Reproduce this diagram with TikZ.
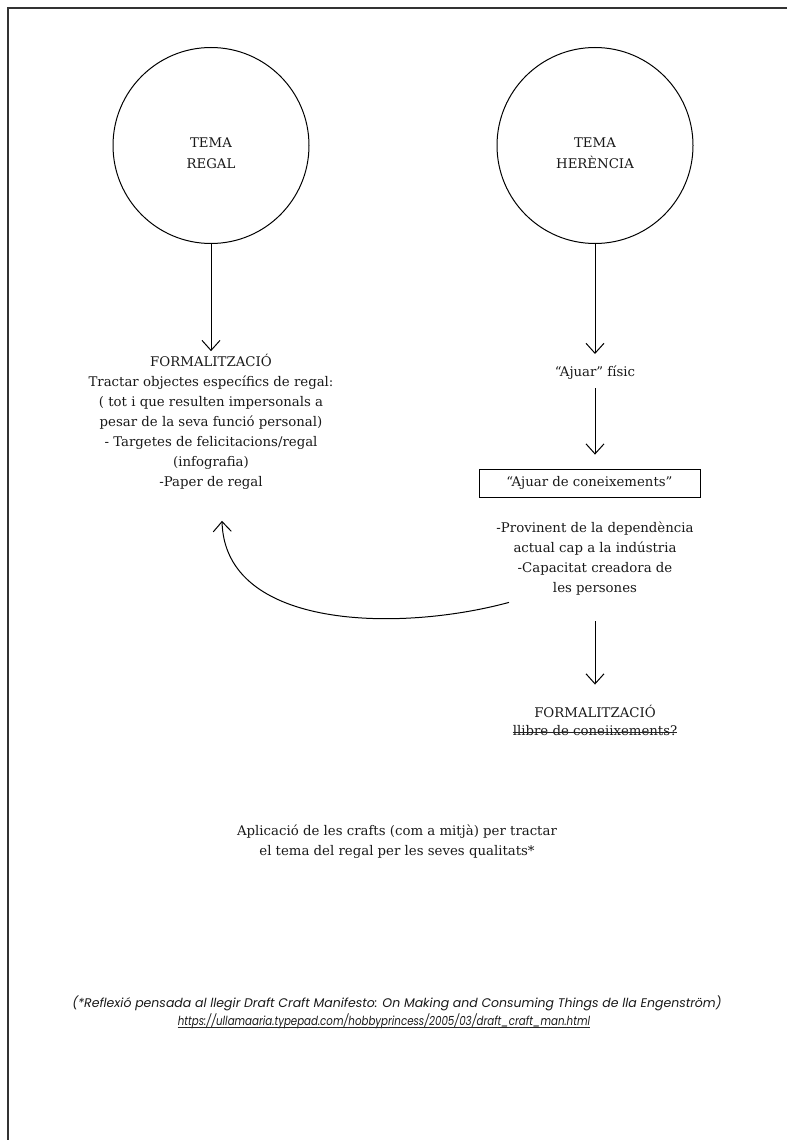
\documentclass[tikz,border=0pt]{standalone}
\usepackage{fontspec}
\usetikzlibrary{arrows.meta}
\setmainfont{DejaVu Serif}
\newfontfamily\notefont{Poppins}
\newfontfamily\urlfont{Poppins}[FakeStretch=0.82]
\begin{document}
\begin{tikzpicture}[x=1pt,y=-1pt,
  every node/.style={font=\fontsize{13.3}{20}\selectfont, inner sep=0pt, align=center, text=black!90},
  bubble/.style={draw, circle, minimum size=196pt, line width=1pt},
  flow/.style={-{Straight Barb[length=10pt,width=18pt]}, line width=1pt},
  boxed/.style={draw, line width=0.8pt, minimum width=221pt, minimum height=28pt},
  note/.style={font=\notefont\itshape\fontsize{12.5}{18}\selectfont},
  urlnote/.style={font=\urlfont\itshape\fontsize{12.5}{18}\selectfont}
]
\useasboundingbox (0,0) rectangle (787,1140);
\draw[line width=1.5pt, black!80] (787,8) -- (8,8) -- (8,1140);

\node[bubble] (c1) at (211,145.5) {};
\node[font=\fontsize{13.3}{21}\selectfont] (c1t) at (211,153) {TEMA\\REGAL};
\node[bubble] (c2) at (595,145.5) {};
\node[font=\fontsize{13.3}{21}\selectfont] (c2t) at (595,153) {TEMA\\HERÈNCIA};

\node (f1) at (211,422) {FORMALITZACIÓ\\Tractar objectes específics de regal:\\( tot i que resulten impersonals a\\pesar de la seva funció personal)\\- Targetes de felicitacions/regal\\(infografia)\\-Paper de regal};

\node (a1) at (595,373) {“Ajuar” físic};
\node[boxed] (b1) at (589.5,483) {“Ajuar de coneixements”};
\node (t2) at (595,558.5) {-Provinent de la dependència\\actual cap a la indústria\\-Capacitat creadora de\\les persones};
\node (f2) at (595,711) {FORMALITZACIÓ};
\node (f2b) at (595,731) {llibre de coneiixements?};
\draw[line width=0.8pt, black!85] ([yshift=4pt]f2b.base west) -- ([yshift=4pt]f2b.base east);

\node (mid) at (397,842) {Aplicació de les crafts (com a mitjà) per tractar\\el tema del regal per les seves qualitats*};

\node[note] (nt) at (397,1003) {(*Reflexió pensada al llegir Draft Craft Manifesto: On Making and Consuming Things de lla Engenström)};
\node[urlnote] (url) at (384,1021) {https://ullamaaria.typepad.com/hobbyprincess/2005/03/draft\_craft\_man.html};
\draw[line width=0.6pt, black!85] ([yshift=-2pt]url.base west) -- ([yshift=-2pt]url.base east);

\draw[flow, shorten >=3pt] (c1.south) -- (f1.north);
\draw[flow, shorten >=12pt] (c2.south) -- (a1.north -| c2.south);
\draw[flow, shorten <=8pt, shorten >=14pt] (a1.south) -- (b1.north -| a1.south);
\draw[flow, shorten <=26pt, shorten >=20pt] (t2.south) -- (f2.north);
\draw[flow] ([xshift=-86pt,yshift=-7pt]t2.south) .. controls (400,632) and (225,630) .. ([xshift=11pt,yshift=-31pt]f1.south);
\end{tikzpicture}
\end{document}
